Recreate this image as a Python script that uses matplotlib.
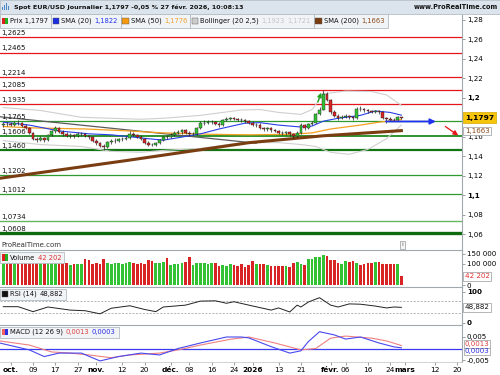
import numpy as np
import matplotlib
matplotlib.use('Agg')
import matplotlib.pyplot as plt
from matplotlib.patches import Rectangle

plt.rcParams['font.family'] = ['DejaVu Sans']

# ---------------- data ----------------
# trading-day index: 0 = 1 oct. 2025
first_day = -2
first_open = 1.1720
closes = [1.1735, 1.1730, 1.1725, 1.1745, 1.1740, 1.1710, 1.1690, 1.1640, 1.1580, 1.1570,
          1.1585, 1.1565, 1.1620, 1.1655, 1.1685, 1.1650, 1.1630, 1.1610, 1.1615, 1.1605,
          1.1625, 1.1630, 1.1610, 1.1595, 1.1560, 1.1535, 1.1510, 1.1490, 1.1545, 1.1555,
          1.1560, 1.1575, 1.1580, 1.1590, 1.1630, 1.1620, 1.1600, 1.1580, 1.1540, 1.1520,
          1.1515, 1.1535, 1.1570, 1.1600, 1.1595, 1.1620, 1.1640, 1.1645, 1.1665, 1.1640,
          1.1625, 1.1630, 1.1690, 1.1740, 1.1745, 1.1750, 1.1750, 1.1735, 1.1720, 1.1770,
          1.1780, 1.1790, 1.1785, 1.1775, 1.1770, 1.1760, 1.1745, 1.1720, 1.1725, 1.1690,
          1.1675, 1.1690, 1.1665, 1.1660, 1.1640, 1.1635, 1.1645, 1.1625, 1.1610, 1.1640,
          1.1720, 1.1685, 1.1730, 1.1745, 1.1830, 1.1880, 1.2040, 1.1975, 1.1850, 1.1815,
          1.1790, 1.1805, 1.1815, 1.1800, 1.1790, 1.1890, 1.1885, 1.1870, 1.1860, 1.1855,
          1.1860, 1.1850, 1.1790, 1.1780, 1.1775, 1.1770, 1.1800, 1.1797]
highs = [1.1750, 1.1755, 1.1748, 1.1762, 1.1770, 1.1750, 1.1728, 1.1705, 1.1652, 1.1595,
         1.1605, 1.1598, 1.1632, 1.1668, 1.1712, 1.1698, 1.1665, 1.1645, 1.1638, 1.1628,
         1.1650, 1.1648, 1.1640, 1.1622, 1.1605, 1.1572, 1.1545, 1.1525, 1.1555, 1.1578,
         1.1585, 1.1592, 1.1598, 1.1610, 1.1655, 1.1650, 1.1632, 1.1615, 1.1592, 1.1552,
         1.1535, 1.1548, 1.1582, 1.1612, 1.1615, 1.1635, 1.1655, 1.1665, 1.1680, 1.1675,
         1.1655, 1.1648, 1.1702, 1.1762, 1.1768, 1.1775, 1.1772, 1.1765, 1.1748, 1.1782,
         1.1805, 1.1808, 1.1800, 1.1795, 1.1790, 1.1782, 1.1772, 1.1758, 1.1742, 1.1738,
         1.1705, 1.1702, 1.1700, 1.1680, 1.1672, 1.1655, 1.1660, 1.1655, 1.1638, 1.1655,
         1.1745, 1.1732, 1.1745, 1.1765, 1.1845, 1.1905, 1.2085, 1.2055, 1.1990, 1.1870,
         1.1830, 1.1820, 1.1832, 1.1828, 1.1812, 1.1908, 1.1915, 1.1898, 1.1885, 1.1875,
         1.1878, 1.1870, 1.1862, 1.1805, 1.1798, 1.1790, 1.1815, 1.1808]
lows = [1.1705, 1.1712, 1.1708, 1.1715, 1.1722, 1.1698, 1.1675, 1.1630, 1.1562, 1.1545,
        1.1555, 1.1542, 1.1556, 1.1605, 1.1640, 1.1638, 1.1612, 1.1598, 1.1590, 1.1585,
        1.1595, 1.1612, 1.1598, 1.1580, 1.1548, 1.1520, 1.1490, 1.1468, 1.1480, 1.1530,
        1.1540, 1.1548, 1.1560, 1.1568, 1.1582, 1.1605, 1.1585, 1.1565, 1.1528, 1.1505,
        1.1500, 1.1502, 1.1525, 1.1560, 1.1580, 1.1585, 1.1608, 1.1625, 1.1632, 1.1628,
        1.1612, 1.1615, 1.1620, 1.1680, 1.1725, 1.1728, 1.1730, 1.1720, 1.1705, 1.1712,
        1.1758, 1.1768, 1.1770, 1.1760, 1.1755, 1.1745, 1.1732, 1.1708, 1.1705, 1.1680,
        1.1660, 1.1662, 1.1652, 1.1645, 1.1628, 1.1620, 1.1622, 1.1610, 1.1590, 1.1598,
        1.1632, 1.1672, 1.1675, 1.1718, 1.1738, 1.1820, 1.1870, 1.1965, 1.1835, 1.1800,
        1.1775, 1.1778, 1.1790, 1.1785, 1.1775, 1.1782, 1.1865, 1.1855, 1.1848, 1.1842,
        1.1845, 1.1838, 1.1778, 1.1742, 1.1762, 1.1758, 1.1762, 1.1785]
volumes = [108000, 104000, 108000, 108000, 102000, 108000, 106000, 108000, 108000, 104000,
           108000, 108000, 106000, 108000, 108000, 108000, 108000, 104000, 96000, 100000,
           102000, 100000, 124000, 120000, 100000, 104000, 100000, 124000, 105000, 100000,
           104000, 104000, 100000, 106000, 110000, 104000, 102000, 104000, 100000, 118000,
           112000, 106000, 104000, 108000, 128000, 96000, 100000, 100000, 104000, 110000,
           135000, 96000, 104000, 106000, 104000, 100000, 104000, 106000, 92000, 96000,
           90000, 98000, 94000, 92000, 100000, 88000, 96000, 112000, 100000, 100000,
           100000, 96000, 92000, 92000, 92000, 90000, 92000, 86000, 104000, 108000,
           102000, 96000, 124000, 122000, 134000, 132000, 142000, 136000, 118000, 118000,
           104000, 100000, 116000, 110000, 112000, 104000, 94000, 100000, 104000, 106000,
           108000, 110000, 100000, 102000, 100000, 100000, 100000, 42202]

# indicator lines (day index, value)
sma20_x = [-2, 5, 13, 21, 27, 32, 37, 41, 45, 51, 56, 63, 67, 72, 78, 81, 84, 88, 94, 98, 102, 105]
sma20_y = [1.1750, 1.1720, 1.1660, 1.1630, 1.1620, 1.1600, 1.1580, 1.1565, 1.1590, 1.1630, 1.1680,
           1.1740, 1.1745, 1.1720, 1.1700, 1.1710, 1.1760, 1.1790, 1.1820, 1.1865, 1.1850, 1.1822]
sma50_x = [-2, 5, 20, 29, 41, 54, 64, 75, 81, 86, 94, 99, 105]
sma50_y = [1.1705, 1.1692, 1.1680, 1.1665, 1.1640, 1.1625, 1.1620, 1.1625, 1.1640, 1.1680,
           1.1720, 1.1750, 1.1776]
sma200_x = [-3, 31, 64, 84, 105]
sma200_y = [1.1173, 1.1355, 1.1539, 1.1610, 1.1663]
boll_up_x = [-2, 8, 19, 27, 35, 41, 51, 62, 67, 72, 78, 81, 84, 90, 97, 101, 105]
boll_up_y = [1.1900, 1.1870, 1.1800, 1.1790, 1.1780, 1.1790, 1.1820, 1.1875, 1.1880, 1.1850,
             1.1830, 1.1880, 1.2040, 1.2070, 1.2065, 1.2030, 1.1923]
boll_lo_x = [-2, 8, 19, 27, 35, 41, 51, 62, 72, 78, 82, 86, 91, 96, 101, 105]
boll_lo_y = [1.1560, 1.1520, 1.1500, 1.1450, 1.1440, 1.1460, 1.1480, 1.1540, 1.1540, 1.1520,
             1.1500, 1.1440, 1.1420, 1.1470, 1.1580, 1.1721]
trend_x = [-3, 66]
trend_y = [1.1806, 1.1534]

rsi_x = [-2, 2, 6, 10, 16, 20, 24, 27, 32, 36, 39, 41, 47, 51, 55, 58, 60, 64, 70, 72, 75, 77,
         78, 80, 83, 86, 88, 91, 94, 98, 101, 103, 105]
rsi_y = [51, 51, 35, 50, 40, 38, 28, 46, 54, 42, 35, 50, 56, 69, 70, 62, 67, 56, 40, 47, 34, 56,
         50, 66, 80, 56, 50, 60, 59, 53, 47, 50, 48.882]

macd_sig_x = [-3, 5, 11, 16, 21, 27, 32, 40, 45, 51, 59, 64, 71, 78, 82, 86, 90, 97, 101, 105]
macd_sig_y = [0.0033, 0.0015, -0.0015, -0.0020, -0.0028, -0.0040, -0.0028, -0.0020, -0.0006,
              0.0015, 0.0040, 0.0050, 0.0024, -0.0006, 0.0000, 0.0045, 0.0054, 0.0045, 0.0033, 0.0013]
macd_x = [-3, 5, 9, 13, 19, 24, 29, 35, 40, 45, 51, 58, 62, 64, 70, 75, 78, 80, 83, 87, 90, 94,
          99, 103, 105]
macd_y = [0.0024, -0.0006, -0.0035, -0.0020, -0.0020, -0.0054, -0.0035, -0.0020, -0.0028, 0.0000,
          0.0024, 0.0050, 0.0050, 0.0046, 0.0008, -0.0020, -0.0010, 0.0030, 0.0073, 0.0059, 0.0041,
          0.0050, 0.0024, 0.0007, 0.0003]

red_levels = [1.2625, 1.2465, 1.2214, 1.2085, 1.1935]
green_levels = [1.1765, 1.1606, 1.1460, 1.1202, 1.1012, 1.0734, 1.0608]
level_labels = ['1,2625', '1,2465', '1,2214', '1,2085', '1,1935',
                '1,1765', '1,1606', '1,1460', '1,1202', '1,1012', '1,0734', '1,0608']

tick_days = [0, 6, 12, 18, 23, 30, 36, 43, 48, 54, 60, 65, 72, 78, 86, 90, 96, 102, 106, 114, 120]
tick_names = ['oct.', '09', '17', '27', 'nov.', '12', '20', 'déc.', '08', '16', '24', '2026',
              '13', '21', 'févr.', '06', '16', '24', 'mars', '12', '20']

blue_arrow = [(100.1, 1.1757), (115.0, 1.1757)]
red_arrow = [(116.2, 1.1722), (120.9, 1.1598)]
green_arrow = [(82.3, 1.1930), (83.7, 1.2080)]

# ---------------- figure ----------------
W, H = 500, 375
fig = plt.figure(figsize=(5, 3.75), dpi=100)
fig.patch.set_facecolor('white')
renderer = fig.canvas.get_renderer()
XR = 462 / W
FS = 4.9


def fbox(x0, y0, x1, y1, fc, ec='#aab4bc', lw=0.6, z=5):
    fig.add_artist(Rectangle((x0 / W, 1 - y1 / H), (x1 - x0) / W, (y1 - y0) / H,
                             transform=fig.transFigure, facecolor=fc, edgecolor=ec, lw=lw, zorder=z))


def ftext(x, y, s, **kw):
    kw.setdefault('fontsize', FS)
    kw.setdefault('va', 'center')
    return fig.text(x / W, 1 - y / H, s, zorder=6, **kw)


def seq_text(x, y, parts, gap=2.6):
    # draw text pieces one after another, return right end in pixels
    for s, c in parts:
        t = ftext(x, y, s, color=c)
        x += t.get_window_extent(renderer).width + gap
    return x - gap


def panel(y0, y1):
    ax = fig.add_axes([0, 1 - y1 / H, XR, (y1 - y0) / H])
    for s in ['left', 'bottom']:
        ax.spines[s].set_visible(False)
    ax.spines['top'].set_color('#a0a8b0')
    ax.spines['right'].set_color('#a0a8b0')
    ax.spines['top'].set_linewidth(0.8)
    ax.spines['right'].set_linewidth(0.8)
    ax.yaxis.tick_right()
    ax.tick_params(axis='y', length=2, width=0.5, color='#777', labelsize=5.1, pad=1.5)
    ax.tick_params(axis='x', bottom=False, labelbottom=False)
    ax.set_xlim(-2.88, 121.3)
    return ax


days = np.arange(first_day, first_day + len(closes))
opens = [first_open] + closes[:-1]
up = np.array(closes) >= np.array(opens)
GREEN, RED = '#33c233', '#d82424'
cols = np.where(up, GREEN, RED)

# ---- price panel ----
ax = panel(14, 250)
ax.spines['top'].set_visible(False)
ax.set_ylim(1.28 - 230 / 973, 1.28 + 6 / 973)
yt = [1.06, 1.08, 1.10, 1.12, 1.14, 1.16, 1.20, 1.22, 1.24, 1.26, 1.28]
ax.set_yticks(yt)
ax.set_yticklabels(['1,06', '1,08', '1,1', '1,12', '1,14', '1,16', '1,2',
                    '1,22', '1,24', '1,26', '1,28'])
for t in ax.get_yticklabels():
    if t.get_text() in ('1,1', '1,2'):
        t.set_fontweight('bold')

for lv in red_levels:
    ax.axhline(lv, color='#e4161b', lw=0.9, zorder=1)
g_styles = {1.1765: ('#2f9a2f', 0.9), 1.1606: ('#1f8a1f', 1.3), 1.1460: ('#137513', 1.6),
            1.1202: ('#2f9a2f', 0.9), 1.1012: ('#2f9a2f', 0.9), 1.0734: ('#62b862', 1.0),
            1.0608: ('#0e6a0e', 2.4)}
for lv in green_levels:
    c, w = g_styles[lv]
    ax.axhline(lv, color=c, lw=w, zorder=1)
for lv, lab in zip(red_levels + green_levels, level_labels):
    ax.text(-2.6, lv + 0.0012, lab, fontsize=5.0, va='bottom', ha='left', color='#111', zorder=7)

ax.plot(boll_up_x, boll_up_y, color='#cfcfcf', lw=0.8, zorder=2)
ax.plot(boll_lo_x, boll_lo_y, color='#cfcfcf', lw=0.8, zorder=2)
ax.plot(trend_x, trend_y, color='#5a5a5a', lw=0.9, zorder=2)
ax.plot(sma200_x, sma200_y, color='#7a3d12', lw=2.2, zorder=2)
ax.plot(sma50_x, sma50_y, color='#f5a020', lw=0.9, zorder=3)
ax.plot(sma20_x, sma20_y, color='#2a3ee8', lw=0.8, zorder=3)

ax.vlines(days, lows, highs, color='#222', lw=0.5, zorder=4)
body = np.maximum(np.abs(np.array(closes) - np.array(opens)), 0.0003)
ax.bar(days, body, bottom=np.minimum(opens, closes), width=0.72, color=cols,
       edgecolor='#222', lw=0.3, zorder=5)

ax.annotate('', xy=blue_arrow[1], xytext=blue_arrow[0],
            arrowprops=dict(arrowstyle='-|>', color='#2233ee', lw=1.3, mutation_scale=8), zorder=6)
ax.annotate('', xy=red_arrow[1], xytext=red_arrow[0],
            arrowprops=dict(arrowstyle='-|>', color='#e8141a', lw=0.9, mutation_scale=7), zorder=6)
ax.annotate('', xy=green_arrow[1], xytext=green_arrow[0],
            arrowprops=dict(arrowstyle='-|>', color='#22a022', lw=1.0, mutation_scale=6), zorder=6)

ax.text(1.006, closes[-1], '1,1797', transform=ax.get_yaxis_transform(), fontsize=5.4,
        fontweight='bold', va='center', ha='left', zorder=8,
        bbox=dict(boxstyle='square,pad=0.3', fc='#f6c40a', ec='#d4a800', lw=0.5))
ax.text(1.006, sma200_y[-1] - 0.0004, '1,1663', transform=ax.get_yaxis_transform(), fontsize=5.1,
        color='#8b4a1a', va='center', ha='left', zorder=8,
        bbox=dict(boxstyle='square,pad=0.2', fc='white', ec='#999', lw=0.5))
ax.text(-2.6, 1.28 - 225 / 973, 'ProRealTime.com', fontsize=5.0, color='#333', va='center')
ax.text(105.3, 1.28 - 225 / 973, 'i', fontsize=4.5, color='#666', va='center', ha='center',
        bbox=dict(boxstyle='square,pad=0.25', fc='#f4f4f4', ec='#999', lw=0.5))

# ---- volume panel ----
av = panel(250, 287)
av.set_ylim(-2 * 100000 / 21, 35 * 100000 / 21)
av.set_yticks([0, 100000, 150000])
av.set_yticklabels(['0', '100 000', '150 000'])
av.bar(days, volumes, width=0.72, color=cols, edgecolor='none', zorder=3)
av.text(1.006, volumes[-1], '42 202', transform=av.get_yaxis_transform(), fontsize=5.1,
        color='#e03030', va='center', ha='left', zorder=8,
        bbox=dict(boxstyle='square,pad=0.2', fc='white', ec='#999', lw=0.5))

# ---- RSI panel ----
ar = panel(287, 325)
ar.set_ylim(-2.5 / 0.31, 100 + 4.5 / 0.31)
ar.set_yticks([0, 100])
ar.set_yticklabels(['0', '100'], fontweight='bold')
ar.axhline(70, color='#999', lw=0.5, ls=(0, (3, 2)))
ar.axhline(30, color='#999', lw=0.5, ls=(0, (3, 2)))
ar.plot(rsi_x, rsi_y, color='#222', lw=0.7)
ar.text(1.006, rsi_y[-1], '48,882', transform=ar.get_yaxis_transform(), fontsize=5.1,
        color='#111', va='center', ha='left', zorder=8,
        bbox=dict(boxstyle='square,pad=0.2', fc='white', ec='#999', lw=0.5))

# ---- MACD panel ----
am = panel(325, 362)
am.set_ylim(-13.5 / 2300, 23.5 / 2300)
am.set_yticks([-0.005, 0.005])
am.set_yticklabels(['-0,005', '0,005'])
am.axhline(0, color='#3a3af0', lw=0.9)
am.plot(macd_sig_x, macd_sig_y, color='#f08080', lw=0.8)
am.plot(macd_x, macd_y, color='#4848f0', lw=0.8)
am.text(1.006, 0.0019, '0,0013', transform=am.get_yaxis_transform(), fontsize=5.0,
        color='#e04040', va='center', ha='left', zorder=8,
        bbox=dict(boxstyle='square,pad=0.12', fc='white', ec='#999', lw=0.5))
am.text(1.006, -0.0013, '0,0003', transform=am.get_yaxis_transform(), fontsize=5.0,
        color='#2a2ae0', va='center', ha='left', zorder=8,
        bbox=dict(boxstyle='square,pad=0.12', fc='white', ec='#999', lw=0.5))
am.spines['bottom'].set_visible(True)
am.spines['bottom'].set_color('#c0c0c0')
am.spines['bottom'].set_linewidth(0.5)
am.set_xticks(tick_days)
am.set_xticklabels(tick_names)
am.tick_params(axis='x', bottom=True, labelbottom=True, length=2, width=0.5, color='#777',
               labelsize=5.3, pad=1.5)
for t in am.get_xticklabels():
    if not t.get_text().isdigit() or t.get_text() == '2026':
        t.set_fontweight('bold')

# ---- title bar and legends ----
fbox(0, 0, 500, 13.5, '#dbe4ec', ec='#aab4bc', lw=0.5, z=4)
for k, hgt in enumerate([3, 5, 7, 4]):
    fbox(2 + 2 * k, 10 - hgt, 3.2 + 2 * k, 10, '#4a86c8', ec='none', lw=0, z=6)
ftext(14, 6.8, 'Spot EUR/USD Journalier 1,1797 -0,05 % 27 févr. 2026, 10:08:13',
      fontsize=4.6, fontweight='bold', color='#111')
ftext(498, 6.8, 'www.ProRealTime.com', fontsize=4.7, fontweight='bold', color='#111', ha='right')


def swatch(x, y, c1, c2=None):
    if c2 is None:
        fbox(x, y - 3.2, x + 6.4, y + 3.2, c1, ec='#555', lw=0.3, z=6)
    else:
        fbox(x, y - 3.2, x + 3.2, y + 3.2, c1, ec='none', lw=0, z=6)
        fbox(x + 3.2, y - 3.2, x + 6.4, y + 3.2, c2, ec='none', lw=0, z=6)


def legend_row(y0, y1, items, x=0):
    # items: list of (swatch colours, text parts); boxes are laid out left to right
    ym = (y0 + y1) / 2
    for sw, parts in items:
        x0 = x
        swatch(x0 + 1.5, ym, *sw)
        x = seq_text(x0 + 10, ym, parts) + 3
        fbox(x0, y0, x, y1, '#f1f4f6', ec='#b4bcc3', lw=0.6, z=5)
    return x


legend_row(14, 27.5, [
    (('#e02020', '#22b022'), [('Prix 1,1797', '#111')]),
    (('#1a2ee0',), [('SMA (20)', '#111'), ('1,1822', '#2233ee')]),
    (('#f59a10',), [('SMA (50)', '#111'), ('1,1776', '#f0a030')]),
    (('#cccccc',), [('Bollinger (20 2,5)', '#111'), ('1,1923', '#c4c4c4'), ('1,1721', '#c4c4c4')]),
    (('#7a3d12',), [('SMA (200)', '#111'), ('1,1663', '#8b4a1a')]),
])
legend_row(252, 263, [(('#e02020', '#22b022'), [('Volume', '#111'), ('42 202', '#e03030')])])
legend_row(288.5, 299.5, [(('#111111',), [('RSI (14)', '#111'), ('48,882', '#111')])])
legend_row(326.5, 337.5, [(('#f06060', '#3030e0'),
                           [('MACD (12 26 9)', '#111'), ('0,0013', '#e04040'), ('0,0003', '#2a2ae0')])])

fig.savefig('out.png', dpi=100, facecolor='white')
